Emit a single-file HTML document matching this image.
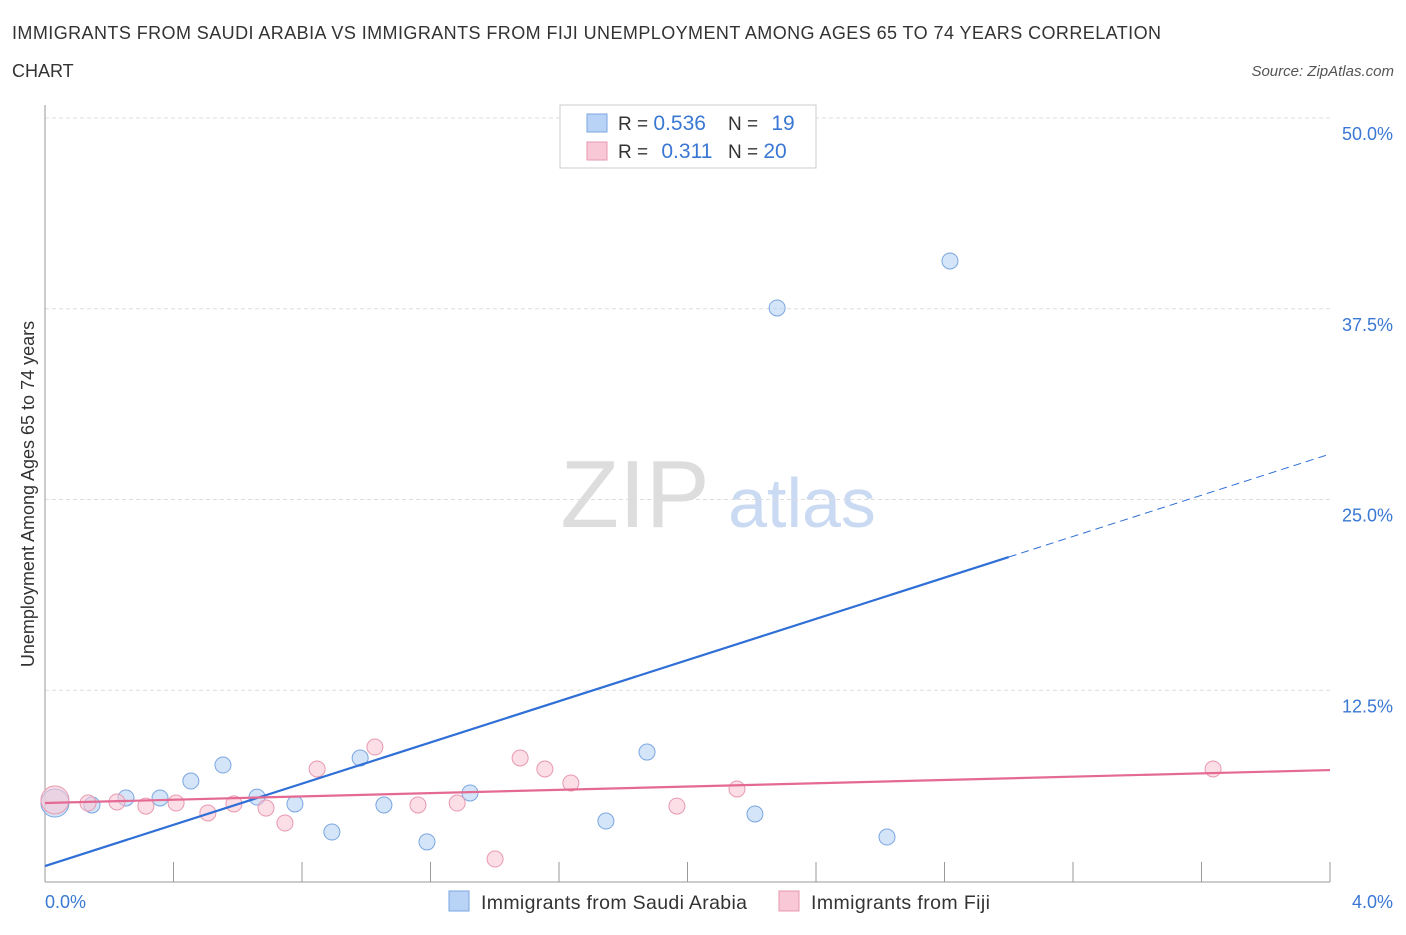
<!DOCTYPE html>
<html><head><meta charset="utf-8"><style>
body{margin:0;background:#fff;font-family:"Liberation Sans",sans-serif;}
svg text{font-family:"Liberation Sans",sans-serif;}
</style></head><body>
<svg id="chart" width="1406" height="930">
<text x="12" y="39" font-size="18" fill="#333" textLength="1149" lengthAdjust="spacing">IMMIGRANTS FROM SAUDI ARABIA VS IMMIGRANTS FROM FIJI UNEMPLOYMENT AMONG AGES 65 TO 74 YEARS CORRELATION</text>
<text x="12" y="77" font-size="18" fill="#333">CHART</text>
<text x="1394" y="76" font-size="15" fill="#555" font-style="italic" text-anchor="end">Source: ZipAtlas.com</text>
<text x="635" y="527" font-size="96" fill="#ddd" font-family="Liberation Serif" text-anchor="middle">ZIP</text>
<text x="802" y="527" font-size="70" fill="#c9daf2" text-anchor="middle">atlas</text>
<text transform="translate(34,494) rotate(-90)" font-size="18" fill="#333" text-anchor="middle">Unemployment Among Ages 65 to 74 years</text>
<g id="grid"></g><g id="marks"></g>
<g>
<rect x="560" y="105" width="256" height="63" fill="#fff" stroke="#ccc"/>
<rect x="587" y="114" width="20" height="18" fill="#b8d3f5" stroke="#7aa6e0"/>
<text x="618" y="130" font-size="19" fill="#333">R = <tspan fill="#3a78d4" font-size="21">0.536</tspan></text>
<text x="728" y="130" font-size="19" fill="#333">N = <tspan fill="#3a78d4" dx="8" font-size="21">19</tspan></text>
<rect x="587" y="142" width="20" height="18" fill="#f8c8d6" stroke="#e899b1"/>
<text x="618" y="158" font-size="19" fill="#333">R = <tspan fill="#3a78d4" dx="8" font-size="21">0.311</tspan></text>
<text x="728" y="158" font-size="19" fill="#333">N = <tspan fill="#3a78d4" font-size="21">20</tspan></text>
</g>
<g>
<rect x="449" y="891" width="20" height="20" fill="#b8d3f5" stroke="#7aa6e0"/>
<text x="481" y="909" font-size="19.5" fill="#333" textLength="266">Immigrants from Saudi Arabia</text>
<rect x="779" y="891" width="20" height="20" fill="#f8c8d6" stroke="#e899b1"/>
<text x="811" y="909" font-size="19.5" fill="#333" textLength="179">Immigrants from Fiji</text>
</g>
</svg>
<script>
const yTicks=[12.5,25,37.5,50];
const yTickLabels=["12.5%","25.0%","37.5%","50.0%"];
const saudiX=[0.031,0.146,0.252,0.358,0.454,0.554,0.660,0.778,0.893,0.981,1.055,1.189,1.323,1.746,1.874,2.210,2.279,2.621,2.817];
const saudiY=[5.11,4.98,5.44,5.44,6.55,7.60,5.50,5.05,3.21,8.06,4.98,2.56,5.77,3.93,8.45,4.39,37.55,2.88,40.63];
const fijiX=[0.031,0.134,0.224,0.314,0.408,0.507,0.588,0.688,0.747,0.847,1.027,1.161,1.283,1.401,1.479,1.556,1.637,1.967,2.154,3.636];
const fijiY=[5.31,5.11,5.18,4.91,5.11,4.46,5.05,4.78,3.80,7.34,8.78,4.98,5.11,1.44,8.06,7.34,6.42,4.91,6.03,7.34];
const saudiTrend=[0.98,27.98]; const saudiSolidEnd=3.0;
const fijiTrend=[5.11,7.27];
const NS="http://www.w3.org/2000/svg";
const X=v=>45+v/4*1285, Y=v=>881-v*15.26;
function mk(t,a,p){const e=document.createElementNS(NS,t);for(const k in a)e.setAttribute(k,a[k]);p.appendChild(e);return e;}
const g=document.getElementById('grid'), m=document.getElementById('marks');
yTicks.forEach((t,i)=>{
 const l=mk('line',{x1:45,x2:1330,y1:Y(t),y2:Y(t),stroke:'#ddd','stroke-dasharray':'4,3'},g);
 
 
 const tx=mk('text',{x:1393,y:Y(t)+22,'font-size':18,fill:'#3a78d4','text-anchor':'end'},g);tx.textContent=yTickLabels[i];
 
 
});
mk('line',{x1:45,x2:45,y1:105,y2:882,stroke:'#999'},g);
mk('line',{x1:45,x2:1330,y1:882,y2:882,stroke:'#999'},g);
for(let i=1;i<=10;i++){const x=45+i*128.5;mk('line',{x1:x,x2:x,y1:862,y2:882,stroke:'#999'},g);}
const a=mk('text',{x:45,y:908,'font-size':18,fill:'#3a78d4'},g);a.textContent='0.0%';


const b=mk('text',{x:1393,y:908,'font-size':18,fill:'#3a78d4','text-anchor':'end'},g);b.textContent='4.0%';


function pts(xs,ys,fill,stroke,name){xs.forEach((x,i)=>{const c=mk('circle',{cx:X(x),cy:Y(ys[i]),r:i==0?14:8,fill:fill,'fill-opacity':0.6,stroke:stroke},m);
 
 });}
pts(saudiX,saudiY,'#b8d3f5','#7aa6e0','saudi-point');
pts(fijiX,fijiY,'#f8c8d6','#e899b1','fiji-point');
const sl=v=>saudiTrend[0]+(saudiTrend[1]-saudiTrend[0])*v/4;
let t1=mk('line',{x1:X(0),y1:Y(sl(0)),x2:X(saudiSolidEnd),y2:Y(sl(saudiSolidEnd)),stroke:'#2f6fd6','stroke-width':2.2},m);


let t2=mk('line',{x1:X(saudiSolidEnd),y1:Y(sl(saudiSolidEnd)),x2:X(4),y2:Y(sl(4)),stroke:'#2f6fd6','stroke-width':1,'stroke-dasharray':'8,5'},m);


let t3=mk('line',{x1:X(0),y1:Y(fijiTrend[0]),x2:X(4),y2:Y(fijiTrend[1]),stroke:'#e46a94','stroke-width':2.2},m);


</script>
</body></html>
